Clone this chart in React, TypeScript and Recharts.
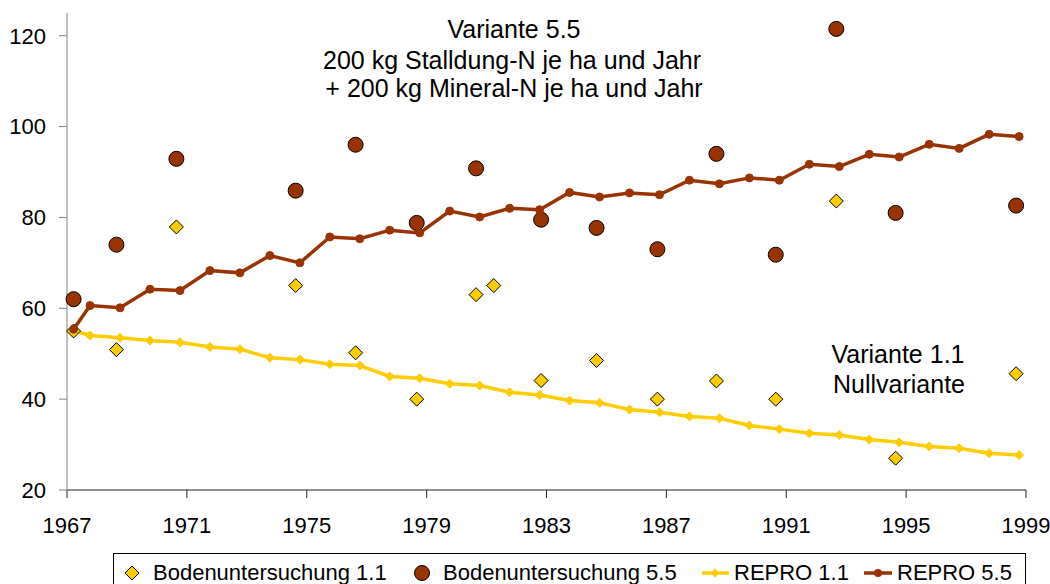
import React from 'react';
import { ComposedChart, Line, Scatter, XAxis, YAxis } from 'recharts';

// REPRO model years (first value is the start sample, then yearly)
const reproYears = [
  1967.22, 1967.77, 1968.77, 1969.77, 1970.77, 1971.77, 1972.77, 1973.77, 1974.77, 1975.77, 1976.77,
  1977.77, 1978.77, 1979.77, 1980.77, 1981.77, 1982.77, 1983.77, 1984.77, 1985.77, 1986.77, 1987.77,
  1988.77, 1989.77, 1990.77, 1991.77, 1992.77, 1993.77, 1994.77, 1995.77, 1996.77, 1997.77, 1998.77,
];
const repro11 = [
  55.1, 54.0, 53.5, 52.9, 52.5, 51.5, 51.0, 49.1, 48.7, 47.7, 47.4,
  45.0, 44.6, 43.4, 43.0, 41.5, 40.9, 39.7, 39.2, 37.7, 37.1, 36.2,
  35.8, 34.2, 33.4, 32.5, 32.1, 31.1, 30.5, 29.6, 29.2, 28.1, 27.7,
];
const repro55 = [
  55.4, 60.6, 60.1, 64.2, 63.9, 68.3, 67.8, 71.6, 70.0, 75.7, 75.3,
  77.2, 76.6, 81.4, 80.1, 82.0, 81.7, 85.5, 84.5, 85.4, 85.0, 88.2,
  87.4, 88.7, 88.2, 91.7, 91.2, 93.9, 93.3, 96.1, 95.2, 98.3, 97.8,
];

// soil sample dates and values
const soilDates11 = [
  1967.22, 1968.65, 1970.65, 1974.63, 1976.63, 1978.67, 1980.65, 1981.24,
  1982.82, 1984.67, 1986.7, 1988.67, 1990.65, 1992.67, 1994.65, 1998.67,
];
const soil11 = [55.0, 50.9, 77.9, 65.0, 50.2, 40.0, 63.0, 65.0, 44.1, 48.5, 40.0, 44.0, 40.0, 83.6, 27.0, 45.6];
const soilDates55 = [
  1967.22, 1968.65, 1970.65, 1974.63, 1976.63, 1978.67, 1980.65,
  1982.82, 1984.67, 1986.7, 1988.67, 1990.65, 1992.67, 1994.65, 1998.67,
];
const soil55 = [62.0, 74.0, 92.9, 85.9, 96.0, 78.8, 90.8, 79.5, 77.7, 73.0, 94.0, 71.8, 121.5, 81.0, 82.6];

const xTicks = [1967, 1971, 1975, 1979, 1983, 1987, 1991, 1995, 1999];
const yTicks = [20, 40, 60, 80, 100, 120];

const YELLOW = '#FFCC00';
const BROWN = '#993300';
const FONT = '"Liberation Sans", Arial, sans-serif';

const toPoints = (xs: number[], ys: number[]) => xs.map((x, i) => ({ x, y: ys[i] }));

const diamondPath = (cx: number, cy: number, s: number) =>
  `M${cx},${cy - s}L${cx + s},${cy}L${cx},${cy + s}L${cx - s},${cy}Z`;

const SoilDiamond = (props: any) => (
  <path d={diamondPath(props.cx, props.cy, 7)} fill={YELLOW} stroke="#000" strokeWidth={1} />
);

const SoilCircle = (props: any) => (
  <circle cx={props.cx} cy={props.cy} r={7.5} fill={BROWN} stroke="#000" strokeWidth={1} />
);

const LineDiamond = (props: any) => (
  <path key={`d${props.index}`} d={diamondPath(props.cx, props.cy, 4.5)} fill={YELLOW} stroke={YELLOW} />
);

const legendText: React.CSSProperties = {
  position: 'absolute',
  top: 561,
  fontSize: 22,
  lineHeight: '24px',
  whiteSpace: 'nowrap',
};

export default function App() {
  return (
    <div
      style={{
        position: 'absolute',
        left: 0,
        top: 0,
        width: 1050,
        height: 584,
        overflow: 'hidden',
        background: '#fff',
        fontFamily: FONT,
      }}
    >
      <ComposedChart width={1050} height={584} margin={{ top: 13, right: 24, bottom: 64, left: 7 }}>
        <XAxis
          dataKey="x"
          type="number"
          domain={[1967, 1999]}
          ticks={xTicks}
          allowDecimals={false}
          height={30}
          stroke="#222"
          tickSize={8}
          tickMargin={19}
          tick={{ fill: '#000', fontSize: 22, fontFamily: FONT }}
        />
        <YAxis
          type="number"
          domain={[20, 125]}
          ticks={yTicks}
          width={60}
          stroke="#808080"
          tickSize={8}
          tickMargin={13}
          tick={{ fill: '#000', fontSize: 22, fontFamily: FONT }}
        />
        <Scatter
          name="Bodenuntersuchung 1.1"
          data={toPoints(soilDates11, soil11)}
          dataKey="y"
          shape={SoilDiamond}
          isAnimationActive={false}
        />
        <Scatter
          name="Bodenuntersuchung 5.5"
          data={toPoints(soilDates55, soil55)}
          dataKey="y"
          shape={SoilCircle}
          isAnimationActive={false}
        />
        <Line
          name="REPRO 1.1"
          data={toPoints(reproYears, repro11)}
          dataKey="y"
          type="linear"
          stroke={YELLOW}
          strokeWidth={3.5}
          dot={LineDiamond}
          activeDot={false}
          isAnimationActive={false}
        />
        <Line
          name="REPRO 5.5"
          data={toPoints(reproYears, repro55)}
          dataKey="y"
          type="linear"
          stroke={BROWN}
          strokeWidth={3.5}
          dot={{ r: 4, fill: BROWN, stroke: BROWN, strokeWidth: 1 }}
          activeDot={false}
          isAnimationActive={false}
        />
        <text x={514} y={38} textAnchor="middle" fontSize={25} fontFamily={FONT} fill="#000">
          Variante 5.5
        </text>
        <text x={512} y={69} textAnchor="middle" fontSize={25} fontFamily={FONT} fill="#000">
          200 kg Stalldung-N je ha und Jahr
        </text>
        <text x={514} y={97} textAnchor="middle" fontSize={25} fontFamily={FONT} fill="#000">
          + 200 kg Mineral-N je ha und Jahr
        </text>
        <text x={898} y={363} textAnchor="middle" fontSize={25} fontFamily={FONT} fill="#000">
          Variante 1.1
        </text>
        <text x={899} y={393} textAnchor="middle" fontSize={25} fontFamily={FONT} fill="#000">
          Nullvariante
        </text>
      </ComposedChart>

      {/* legend box, cut by the bottom edge like in the original */}
      <div
        style={{
          position: 'absolute',
          left: 113,
          top: 553,
          width: 911,
          height: 40,
          border: '1px solid #000',
        }}
      />
      <svg style={{ position: 'absolute', left: 0, top: 553 }} width={1050} height={31}>
        <path d={diamondPath(132, 20, 7)} fill={YELLOW} stroke="#000" strokeWidth={1} />
        <circle cx={422} cy={20} r={7.5} fill={BROWN} stroke="#000" strokeWidth={1} />
        <line x1={702} y1={20} x2={729} y2={20} stroke={YELLOW} strokeWidth={3.5} />
        <path d={diamondPath(715, 20, 4.5)} fill={YELLOW} />
        <line x1={864} y1={20} x2={892} y2={20} stroke={BROWN} strokeWidth={3.5} />
        <circle cx={878} cy={20} r={4} fill={BROWN} />
      </svg>
      <span style={{ ...legendText, left: 153 }}>Bodenuntersuchung 1.1</span>
      <span style={{ ...legendText, left: 443 }}>Bodenuntersuchung 5.5</span>
      <span style={{ ...legendText, left: 734 }}>REPRO 1.1</span>
      <span style={{ ...legendText, left: 897 }}>REPRO 5.5</span>
    </div>
  );
}
